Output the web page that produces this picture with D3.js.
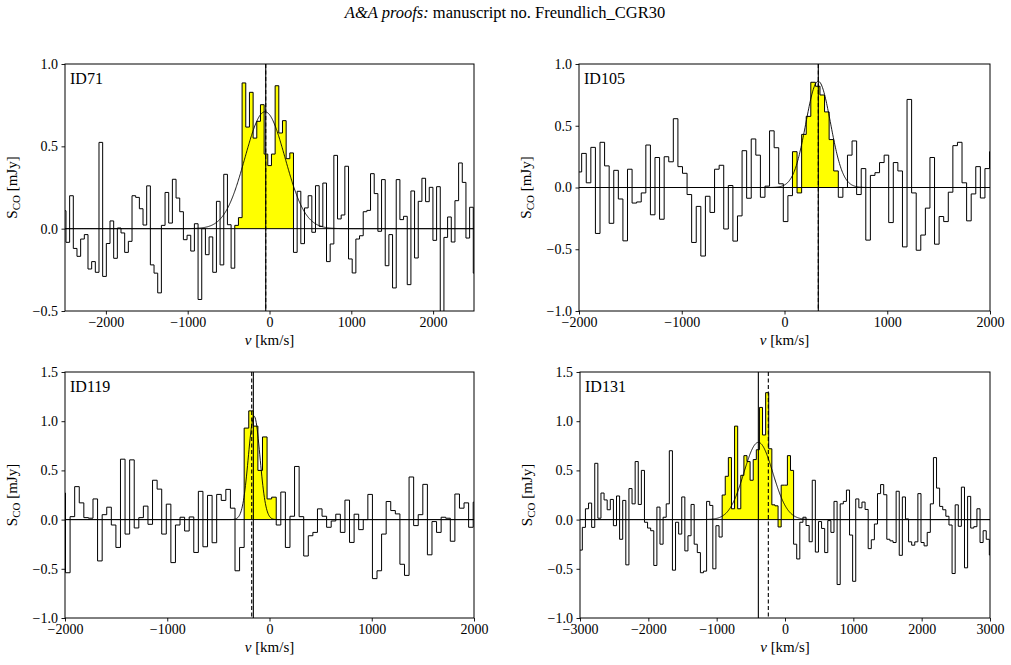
<!DOCTYPE html>
<html><head><meta charset="utf-8">
<script src="https://cdn.jsdelivr.net/npm/d3@7"></script>
<style>
body{margin:0;background:#fff}
svg{display:block}
text{font-family:"Liberation Serif","Times New Roman",serif;fill:#000}
</style>
</head><body>
<svg id="c" width="1011" height="665"></svg>
<script>
// ---------------- DATA ----------------
// channel values (mJy), regular channels starting at v0 with width dv (km/s)
const id71_v0 = -2533, id71_dv = 44.86;
const id71_vals = [0.109,-0.083,0.2,-0.12,-0.168,-0.063,-0.036,-0.245,-0.2,-0.265,
 0.524,-0.29,-0.09,0.047,-0.18,0.004,-0.026,-0.144,-0.077,0.2,
 0.19,0.121,0.022,0.26,-0.22,-0.27,-0.39,0.02,0.22,0.034,
 0.3,0.186,0.103,-0.067,-0.04,-0.136,0.03,-0.43,0.0,-0.158,
 -0.05,-0.265,0.166,-0.22,0.33,0.024,-0.24,0.02,0.067,0.885,
 0.617,0.828,0.55,0.652,0.753,0.453,0.383,0.453,0.868,0.581,
 0.656,0.425,0.46,-0.144,0.227,-0.091,0.126,0.2,-0.022,0.261,
 0.014,0.277,-0.2,-0.093,0.445,0.059,0.083,0.379,-0.184,-0.269,
 -0.063,-0.043,0.103,0.111,0.334,0.213,-0.016,0.298,-0.225,-0.036,
 -0.36,0.298,0.055,0.075,-0.34,0.229,-0.178,0.166,0.306,0.164,
 0.251,-0.071,0.255,-0.6,-0.053,0.071,-0.081,0.17,0.399,0.281,
 -0.057,0.13,-0.27];
const id71_line = [-425, 293];           // yellow integration window
const id71_fit = {amp:0.71, mu:-55, sigma:245};
const id71_vsolid = -46, id71_vdash = -46;

const id105_v0 = -2018.6, id105_dv = 44.6;
const id105_vals = [0.126,
 0.276,0.038,0.325,-0.372,0.366,0.175,-0.29,0.139,-0.093,-0.432,
 0.148,-0.126,-0.117,-0.044,0.344,-0.221,0.243,-0.257,0.249,0.208,
 0.557,0.169,0.115,-0.057,-0.445,-0.153,-0.555,-0.071,-0.202,0.148,
 0.18,-0.336,0.016,-0.434,-0.23,0.298,-0.087,0.393,0.262,-0.079,
 0.011,0.459,0.322,0.03,
 -0.276,-0.066,0.29,-0.044,0.43,0.576,0.852,0.82,0.749,0.612,
 0.388,0.134,-0.079,0.0,0.262,0.377,-0.057,0.153,-0.426,0.098,
 0.12,0.202,0.262,-0.284,0.202,0.134,-0.481,0.713,-0.044,-0.508,
 -0.385,-0.167,0.243,-0.459,-0.235,-0.276,-0.038,0.339,0.366,0.038,
 -0.27,-0.052,0.169,-0.085,
 0.153,0.29];
const id105_line = [78, 524];
const id105_fit = {amp:0.86, mu:328, sigma:120};
const id105_vsolid = 329, id105_vdash = 329;

const id119_v0 = -2039.8, id119_dv = 44.8;
const id119_vals = [0.27,
 -0.54,0.03,0.335,0.17,0.02,0.014,0.21,-0.42,0.05,0.126,
 -0.055,-0.283,0.614,-0.147,0.607,-0.085,0.02,0.137,-0.048,0.4,
 0.31,-0.147,0.157,-0.437,-0.055,0.024,-0.116,0.027,-0.334,0.287,
 -0.276,0.246,-0.235,0.256,0.195,0.307,0.116,-0.52,-0.283,0.93,
 1.105,0.95,0.5,0.84,
 0.21,0.228,-0.055,0.28,-0.283,0.034,0.54,0.03,-0.37,-0.164,
 -0.13,0.109,0.034,-0.078,-0.014,0.055,-0.13,0.198,-0.232,0.055,
 -0.102,0.0,0.256,-0.6,-0.52,-0.147,0.184,0.092,0.058,-0.454,
 -0.567,0.433,-0.061,0.05,0.358,-0.358,-0.02,-0.13,0.024,0.014,
 -0.22,0.26,0.116,0.17,-0.078,
 0.177];
const id119_line = [-248, 66];
const id119_fit = {amp:1.05, mu:-150, sigma:57};
const id119_vsolid = -158, id119_vdash = -174;

const id131_v0 = -3011.5, id131_dv = 45.47;
const id131_vals = [-0.31,
 -0.079,0.11,0.168,-0.079,0.572,0.014,0.27,0.2,0.1,0.205,
 -0.062,0.24,-0.2,0.195,-0.46,0.315,0.16,0.59,0.154,0.5,
 -0.027,-0.086,-0.113,-0.466,0.127,-0.25,0.024,0.16,0.7,-0.514,
 -0.027,-0.147,0.23,-0.318,-0.164,0.154,-0.25,-0.335,-0.54,-0.524,
 0.185,0.144,-0.5,-0.062,-0.177,
 0.25,0.44,0.63,0.11,0.95,0.11,0.45,0.65,0.59,0.4,
 0.61,0.71,1.14,0.86,1.29,0.72,0.15,0.14,-0.075,0.35,
 0.35,0.65,0.5,
 -0.25,
 -0.4,-0.027,0.024,-0.06,-0.225,0.4,-0.33,-0.02,-0.09,-0.335,
 -0.01,-0.13,0.185,-0.66,0.16,0.185,0.3,-0.157,-0.627,0.21,
 0.12,0.178,0.103,-0.295,-0.205,-0.045,0.264,0.356,0.253,-0.2,
 -0.216,-0.233,0.288,-0.363,0.23,0.007,-0.226,-0.26,-0.226,0.264,
 -0.233,-0.267,-0.13,0.16,0.63,0.32,0.134,0.1,0.034,-0.055,
 -0.548,0.15,-0.068,0.33,-0.49,0.236,-0.086,-0.072,0.11,-0.233,
 -0.113,-0.2,-0.36];
const id131_line = [-920, 126];
const id131_fit = {amp:0.785, mu:-390, sigma:212};
const id131_vsolid = -390, id131_vdash = -244;

const panelNames = ["ID71","ID105","ID119","ID131"];
const xDomains = [[-2500,2500],[-2000,2000],[-2000,2000],[-3000,3000]];
const yDomains = [[-0.5,1.0],[-1,1],[-1,1.5],[-1,1.5]];
const xTicks = [[-2000,-1000,0,1000,2000],[-2000,-1000,0,1000,2000],[-2000,-1000,0,1000,2000],[-3000,-2000,-1000,0,1000,2000,3000]];
const yTicks = [[-0.5,0,0.5,1.0],[-1,-0.5,0,0.5,1],[-1,-0.5,0,0.5,1,1.5],[-1,-0.5,0,0.5,1,1.5]];

// ---------------- LAYOUT ----------------
const boxes = [[65,64,474,311],[579,64,990,311],[65,372,474,618],[580,372,990,618]];

const series = [
 {vals:id71_vals,v0:id71_v0,dv:id71_dv,line:id71_line,fit:id71_fit,vs:id71_vsolid,vd:id71_vdash},
 {vals:id105_vals,v0:id105_v0,dv:id105_dv,line:id105_line,fit:id105_fit,vs:id105_vsolid,vd:id105_vdash},
 {vals:id119_vals,v0:id119_v0,dv:id119_dv,line:id119_line,fit:id119_fit,vs:id119_vsolid,vd:id119_vdash},
 {vals:id131_vals,v0:id131_v0,dv:id131_dv,line:id131_line,fit:id131_fit,vs:id131_vsolid,vd:id131_vdash}
];

const svg = d3.select("#c");
svg.append("rect").attr("width",1011).attr("height",665).attr("fill","#fff");

// title
const title = svg.append("text").attr("x",505).attr("y",18).attr("text-anchor","middle")
  .style("font-size","16.5px");
title.append("tspan").style("font-style","italic").text("A&A proofs:");
title.append("tspan").text(" manuscript no. Freundlich_CGR30");

series.forEach((s,k)=>{
  const [x0,y0,x1,y1] = boxes[k];
  const x = d3.scaleLinear().domain(xDomains[k]).range([x0,x1]);
  const y = d3.scaleLinear().domain(yDomains[k]).range([y1,y0]);
  const g = svg.append("g");
  const cid = "clip"+k;
  svg.append("clipPath").attr("id",cid).append("rect")
    .attr("x",x0).attr("y",y0).attr("width",x1-x0).attr("height",y1-y0);
  const pg = g.append("g").attr("clip-path",`url(#${cid})`);

  // step points
  const pts = s.vals.map((v,i)=>({e:s.v0+i*s.dv, v:v}));
  pts.push({e:s.v0+s.vals.length*s.dv, v:s.vals[s.vals.length-1]});

  // yellow fill (channels inside the line window)
  const yel = [];
  s.vals.forEach((v,i)=>{
    const c = s.v0+(i+0.5)*s.dv;
    if(c>=s.line[0] && c<=s.line[1]) yel.push({e:s.v0+i*s.dv, v:v});
  });
  if(yel.length){
    const last = yel[yel.length-1];
    yel.push({e:last.e+s.dv, v:last.v});
    pg.append("path").datum(yel)
      .attr("d", d3.area().curve(d3.curveStepAfter).x(d=>x(d.e)).y0(y(0)).y1(d=>y(d.v)))
      .attr("fill","#ffff00").attr("stroke","none");
  }

  // zero line
  pg.append("line").attr("x1",x0).attr("x2",x1).attr("y1",y(0)).attr("y2",y(0))
    .attr("stroke","#000").attr("stroke-width",1);

  // spectrum step line
  pg.append("path").datum(pts)
    .attr("d", d3.line().curve(d3.curveStepAfter).x(d=>x(d.e)).y(d=>y(d.v)))
    .attr("fill","none").attr("stroke","#000").attr("stroke-width",1);

  // gaussian fit
  const gv = d3.range(xDomains[k][0], xDomains[k][1]+1, 5);
  pg.append("path").datum(gv)
    .attr("d", d3.line().x(v=>x(v)).y(v=>y(s.fit.amp*Math.exp(-0.5*Math.pow((v-s.fit.mu)/s.fit.sigma,2)))))
    .attr("fill","none").attr("stroke","#000").attr("stroke-width",0.9);

  // vertical lines
  pg.append("line").attr("x1",x(s.vs)).attr("x2",x(s.vs)).attr("y1",y0).attr("y2",y1)
    .attr("stroke","#000").attr("stroke-width",1.1);
  pg.append("line").attr("x1",x(s.vd)).attr("x2",x(s.vd)).attr("y1",y0).attr("y2",y1)
    .attr("stroke","#000").attr("stroke-width",1.1).attr("stroke-dasharray","4,2.5");

  // frame
  g.append("rect").attr("x",x0).attr("y",y0).attr("width",x1-x0).attr("height",y1-y0)
    .attr("fill","none").attr("stroke","#000").attr("stroke-width",1);

  // axes
  const ax = g.append("g").attr("transform",`translate(0,${y1})`)
    .call(d3.axisBottom(x).tickValues(xTicks[k]).tickFormat(d3.format("d")).tickSize(3.5).tickSizeOuter(0).tickPadding(3));
  const ay = g.append("g").attr("transform",`translate(${x0},0)`)
    .call(d3.axisLeft(y).tickValues(yTicks[k]).tickFormat(d3.format(".1f")).tickSize(3.5).tickSizeOuter(0).tickPadding(3.5));
  [ax,ay].forEach(a=>{
    a.select(".domain").remove();
    a.selectAll("line").attr("stroke","#000").attr("stroke-width",0.9);
    a.selectAll("text").style("font-size","14px").style("font-family","'Liberation Serif',serif").attr("fill","#000");
  });

  // panel label
  g.append("text").attr("x",x0+5).attr("y",y0+20).style("font-size","16px").text(panelNames[k]);

  // axis labels
  const xl = g.append("text").attr("x",(x0+x1)/2).attr("y",y1+34).attr("text-anchor","middle").style("font-size","15px");
  xl.append("tspan").style("font-style","italic").text("v");
  xl.append("tspan").text(" [km/s]");
  const yl = g.append("text").attr("transform",`translate(${x0-48},${(y0+y1)/2}) rotate(-90)`)
    .attr("text-anchor","middle").style("font-size","15px");
  yl.append("tspan").text("S");
  yl.append("tspan").attr("dy",3).style("font-size","11px").text("CO");
  yl.append("tspan").attr("dy",-3).text(" [mJy]");
});
</script>
</body></html>
